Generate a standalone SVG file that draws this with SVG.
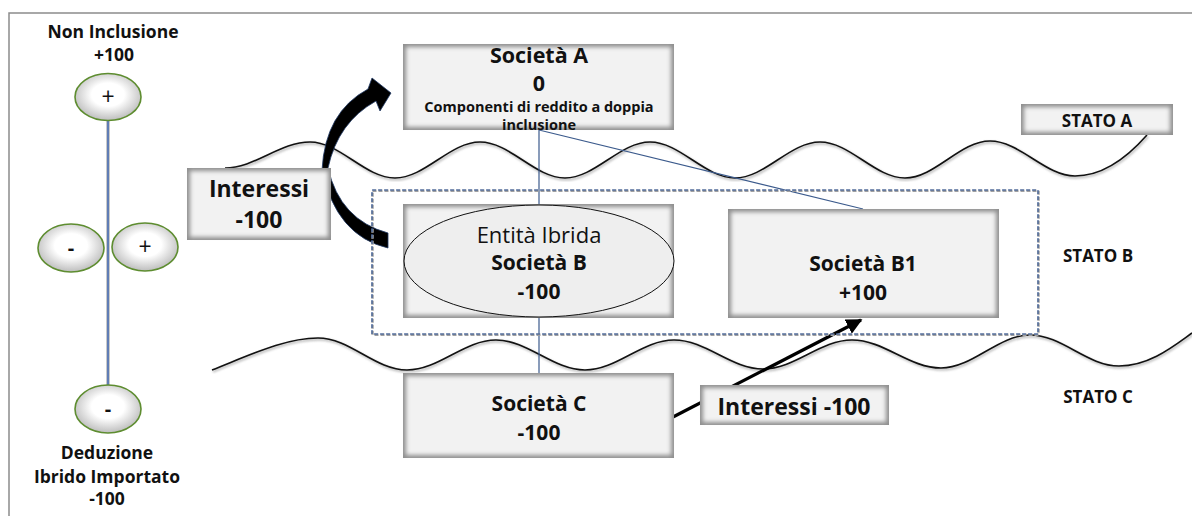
<svg xmlns="http://www.w3.org/2000/svg" width="1192" height="516" viewBox="0 0 1192 516">
<defs>
<style>
.t{font-family:"Open Sans","Liberation Sans",sans-serif;fill:#111;text-anchor:middle}
.b{font-weight:bold}
.frame{fill:none;stroke:#8c8c8c;stroke-width:1.5}
.wave{fill:none;stroke:#111;stroke-width:1.6}
.waveSh{fill:none;stroke:#9a9a9a;stroke-width:2.5;opacity:0.6}
.conn{fill:none;stroke:#3b5a8c;stroke-width:1.2}
.boxOut{fill:#8f8f8f}
.boxIn{fill:#f2f2f2;filter:url(#soft)}
.circ{fill:url(#rg);stroke:#5e8d30;stroke-width:1.6}
</style>
<filter id="soft" x="-10%" y="-10%" width="120%" height="120%"><feGaussianBlur stdDeviation="2"/></filter>
<filter id="blur1" x="-5%" y="-5%" width="110%" height="110%"><feGaussianBlur stdDeviation="1"/></filter>
<radialGradient id="rg" cx="50%" cy="45%" r="55%"><stop offset="0.45" stop-color="#ffffff"/><stop offset="1" stop-color="#bdbdbd"/></radialGradient>
<marker id="ah" viewBox="0 0 10 10" refX="9" refY="5" markerWidth="5" markerHeight="5" orient="auto" markerUnits="strokeWidth"><path d="M0,0 L10,5 L0,10 z" fill="#000"/></marker>
</defs>
<rect width="1192" height="516" fill="#fff"/>
<path class="frame" d="M9,516 V13 H1192"/>

<g id="waves">
<path class="waveSh" transform="translate(1,1.5)" filter="url(#blur1)" d="M225,168 C255,168 280,142 310,142 C340,142 365,178 395,178 C425,178 450,142 480,142 C510,142 535,178 565,178 C595,178 620,142 650,142 C680,142 705,178 735,178 C765,178 790,142 820,142 C850,142 875,178 905,178 C935,178 960,141 990,141 C1020,141 1045,176 1075,176 C1100,176 1125,160 1147,135"/>
<path class="wave" d="M225,168 C255,168 280,142 310,142 C340,142 365,178 395,178 C425,178 450,142 480,142 C510,142 535,178 565,178 C595,178 620,142 650,142 C680,142 705,178 735,178 C765,178 790,142 820,142 C850,142 875,178 905,178 C935,178 960,141 990,141 C1020,141 1045,176 1075,176 C1100,176 1125,160 1147,135"/>
<path class="waveSh" transform="translate(1,1.5)" filter="url(#blur1)" d="M212,370 C250,355 285,338 318,338 C350,338 375,370 407,370 C439,370 464,340 496,340 C528,340 553,370 585,370 C617,370 642,340 674,340 C706,340 731,369 763,369 C795,369 820,340 852,340 C884,340 909,368 941,368 C973,368 998,335 1030,335 C1062,335 1087,366 1119,366 C1150,366 1175,345 1192,333"/>
<path class="wave" d="M212,370 C250,355 285,338 318,338 C350,338 375,370 407,370 C439,370 464,340 496,340 C528,340 553,370 585,370 C617,370 642,340 674,340 C706,340 731,369 763,369 C795,369 820,340 852,340 C884,340 909,368 941,368 C973,368 998,335 1030,335 C1062,335 1087,366 1119,366 C1150,366 1175,345 1192,333"/>
</g>

<g id="connectors">
<line x1="108" y1="120" x2="108" y2="386" stroke="#999" stroke-width="3.5" opacity="0.7"/>
<line x1="108" y1="120" x2="108" y2="386" stroke="#4a6fb5" stroke-width="1.6"/>
<line class="conn" x1="539" y1="130" x2="539" y2="204"/>
<line class="conn" x1="539" y1="130" x2="863" y2="209"/>
<line class="conn" x1="539" y1="318" x2="539" y2="373"/>
<line x1="673" y1="417" x2="861" y2="320" stroke="#000" stroke-width="3.2" marker-end="url(#ah)"/>
<path d="M388,248 Q336,236 322,170 Q325,112 368,89 L372,78 L391,93 L380,111 L376,101 Q338,122 328,168 Q340,220 388,233 Z" fill="#000" stroke="#1f3864" stroke-width="0.8"/>
</g>

<g id="stateB">
<rect x="372" y="190" width="666" height="144" fill="none" stroke="#a0a0a0" stroke-width="2.5" stroke-dasharray="4 2" transform="translate(0.5,0.8)"/>
<rect x="372" y="190" width="666" height="144" fill="none" stroke="#2f5597" stroke-width="1.1" stroke-dasharray="4 2"/>
</g>

<g id="axis">
<g id="c-top"><ellipse class="circ" cx="108" cy="97" rx="33" ry="23.5"/><text class="t" x="108" y="105" font-size="23">+</text></g>
<g id="c-ml"><ellipse class="circ" cx="71" cy="248" rx="33" ry="24"/><text class="t b" x="71" y="255" font-size="20">-</text></g>
<g id="c-mr"><ellipse class="circ" cx="145" cy="247" rx="33" ry="24"/><text class="t" x="145" y="255" font-size="23">+</text></g>
<g id="c-bot"><ellipse class="circ" cx="108" cy="409" rx="33" ry="24"/><text class="t b" x="108" y="416" font-size="20">-</text></g>
<g id="lbl-top"><text class="t b" x="113" y="38" font-size="17.5">Non Inclusione</text><text class="t b" x="114" y="61" font-size="17.5">+100</text></g>
<g id="lbl-bot"><text class="t b" x="107" y="459" font-size="17.5">Deduzione</text><text class="t b" x="107" y="483" font-size="17.5">Ibrido Importato</text><text class="t b" x="107" y="505" font-size="17.5">-100</text></g>
</g>

<g id="interessi-left">
<rect class="boxOut" x="187" y="168" width="144" height="72"/><rect class="boxIn" x="190" y="171" width="138" height="66"/>
<text class="t b" x="259" y="197" font-size="23">Interessi</text>
<text class="t b" x="259" y="228" font-size="23">-100</text>
</g>

<g id="societaA">
<rect class="boxOut" x="403" y="44" width="271" height="86"/><rect class="boxIn" x="406" y="47" width="265" height="80"/>
<text class="t b" x="539" y="63" font-size="21.5">Società A</text>
<text class="t b" x="539" y="91" font-size="21.5">0</text>
<text class="t b" x="539" y="112" font-size="14.5">Componenti di reddito a doppia</text>
<text class="t b" x="539" y="130" font-size="14.5">inclusione</text>
</g>

<g id="societaB">
<rect class="boxOut" x="403" y="204" width="271" height="114"/><rect class="boxIn" x="406" y="207" width="265" height="108"/>
<ellipse cx="539" cy="261" rx="135" ry="56" fill="#eeeeee" stroke="#111" stroke-width="1"/>
<text class="t" x="539" y="243" font-size="22">Entità Ibrida</text>
<text class="t b" x="539" y="270" font-size="21">Società B</text>
<text class="t b" x="539" y="299" font-size="21">-100</text>
</g>

<g id="societaB1">
<rect class="boxOut" x="728" y="209" width="271" height="109"/><rect class="boxIn" x="731" y="212" width="265" height="103"/>
<text class="t b" x="863" y="271" font-size="21">Società B1</text>
<text class="t b" x="863" y="300" font-size="21">+100</text>
</g>

<g id="societaC">
<rect class="boxOut" x="403" y="373" width="271" height="85"/><rect class="boxIn" x="406" y="376" width="265" height="79"/>
<text class="t b" x="539" y="411" font-size="21">Società C</text>
<text class="t b" x="539" y="440" font-size="21">-100</text>
</g>

<g id="interessi-bottom">
<rect class="boxOut" x="700" y="385" width="189" height="40"/><rect class="boxIn" x="703" y="388" width="183" height="34"/>
<text class="t b" x="794" y="415" font-size="23">Interessi -100</text>
</g>

<g id="statoA">
<rect class="boxOut" x="1021" y="104" width="152" height="31"/><rect class="boxIn" x="1024" y="107" width="146" height="25"/>
<text class="t b" x="1097" y="127" font-size="17">STATO A</text>
</g>
<g id="statoB"><text class="t b" x="1098" y="262" font-size="17">STATO B</text></g>
<g id="statoC"><text class="t b" x="1098" y="403" font-size="17">STATO C</text></g>
</svg>
